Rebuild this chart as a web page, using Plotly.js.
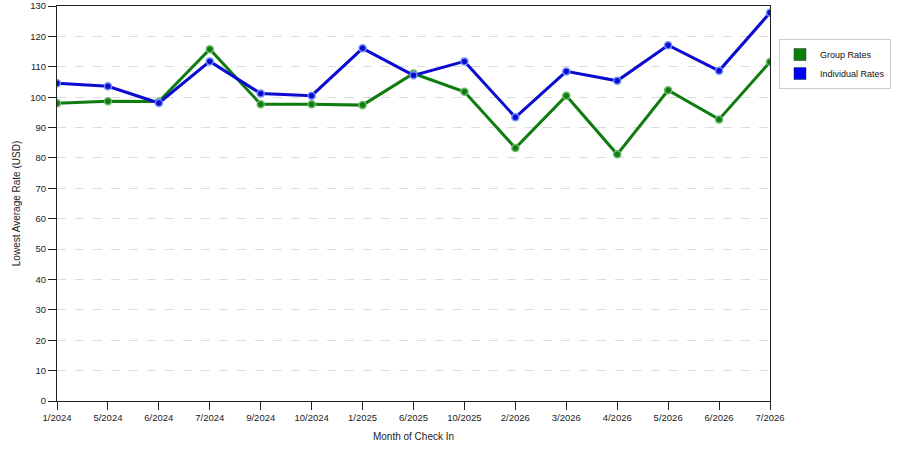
<!DOCTYPE html>
<html><head><meta charset="utf-8">
<script src="https://cdn.plot.ly/plotly-3.0.1.min.js"></script>
<style>body{margin:0;background:#fff}#c{width:900px;height:450px}</style>
</head><body><div id="c"></div>
<script>
const months = ["1/2024","5/2024","6/2024","7/2024","9/2024","10/2024","1/2025","6/2025","10/2025","2/2026","3/2026","4/2026","5/2026","6/2026","7/2026"];
const groupRates = [98.0,98.7,98.6,115.8,97.7,97.7,97.4,107.8,101.8,83.3,100.5,81.2,102.3,92.7,111.6];
const individualRates = [104.6,103.6,98.1,111.8,101.2,100.5,116.1,107.2,111.8,93.4,108.5,105.4,117.1,108.7,127.8];
const yTicks = [0,10,20,30,40,50,60,70,80,90,100,110,120,130];

const green = "#107c10", blue = "#0b0bd0";
const ff = "Liberation Sans, Arial, sans-serif";
const tickFont = {family:ff, size:9.5, color:"#222"};
const titleFont = {family:ff, size:10, color:"#222"};
const legFont = {family:ff, size:9, color:"#111"};
function lineTrace(name, y, col, mk){
  return {type:"scatter", mode:"lines+markers", name:name, x:months, y:y, showlegend:false,
    line:{color:col, width:3}, marker:{size:7, color:col, line:{color:mk, width:1.5}}, hoverinfo:"x+y"};
}
function legTrace(name, col){
  return {type:"scatter", mode:"markers", name:name, x:[null], y:[null], showlegend:true,
    marker:{symbol:"square", size:12, color:col, line:{color:"#333", width:0.5}}};
}
const data = [
  lineTrace("Group Rates", groupRates, green, "#6bb86b"),
  lineTrace("Individual Rates", individualRates, blue, "#6f8fff"),
  legTrace("Group Rates", "#0a800a"),
  legTrace("Individual Rates", "#0000ff")
];
const layout = {
  width:900, height:450, paper_bgcolor:"#fff", plot_bgcolor:"#fff", font:tickFont,
  margin:{l:57, r:130, t:6, b:49, autoexpand:false},
  xaxis:{type:"category", range:[0,14], showline:true, linecolor:"#222", linewidth:1, mirror:true,
    ticks:"outside", ticklen:8, tickcolor:"#222", showgrid:false, zeroline:false,
    title:{text:"Month of Check In", font:titleFont, standoff:10}, tickfont:tickFont},
  yaxis:{range:[0,130.03], tickvals:yTicks, showline:true, linecolor:"#222", linewidth:1, mirror:true,
    ticks:"outside", ticklen:8, tickcolor:"#222", showgrid:true, gridcolor:"#dcdcdc", griddash:"dash",
    ticklabeloverflow:"allow",
    zeroline:false, title:{text:"Lowest Average Rate (USD)", font:titleFont, standoff:7}, tickfont:tickFont},
  legend:{x:1.0126, y:(395-38)/395+0.0126, xanchor:"left", yanchor:"top", bordercolor:"#cccccc", borderwidth:1,
    bgcolor:"#fff", font:legFont, itemwidth:30, tracegroupgap:4},
  showlegend:true
};
Plotly.newPlot("c", data, layout, {displayModeBar:false, staticPlot:true});
</script></body></html>
